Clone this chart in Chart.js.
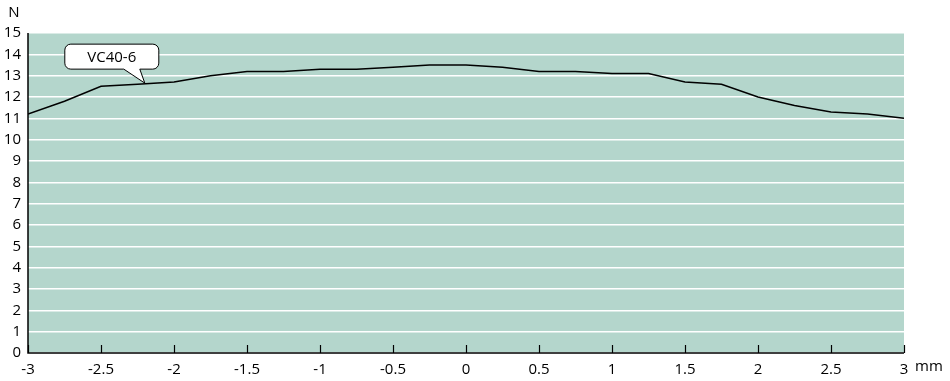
<!DOCTYPE html>
<html lang="en">
<head>
    <meta charset="UTF-8">
    <title>VC40-6 force curve</title>
    <script src="https://cdn.jsdelivr.net/npm/chart.js"></script>
    <style>
        body {
            margin: 0;
            padding: 0;
            background: #fff;
        }
        .wrap {
            width: 950px;
            height: 381px;
        }
    </style>
</head>
<body>
    <div class="wrap"><canvas id="forceChart" width="950" height="381"></canvas></div>

    <script>
        // stroke position (mm) and force (N)
        const strokeMm = [-3, -2.75, -2.5, -2.25, -2, -1.75, -1.5, -1.25, -1, -0.75, -0.5, -0.25, 0,
                          0.25, 0.5, 0.75, 1, 1.25, 1.5, 1.75, 2, 2.25, 2.5, 2.75, 3];
        const forceN = [11.2, 11.8, 12.5, 12.6, 12.7, 13.0, 13.2, 13.2, 13.3, 13.3, 13.4, 13.5, 13.5,
                        13.4, 13.2, 13.2, 13.1, 13.1, 12.7, 12.6, 12.0, 11.6, 11.3, 11.2, 11.0];
        const xTicks = [-3, -2.5, -2, -1.5, -1, -0.5, 0, 0.5, 1, 1.5, 2, 2.5, 3];
        const seriesLabel = 'VC40-6';
        const labelAt = [-2.2, 12.65];

        const fontFamily = '"Open Sans", "Noto Sans", sans-serif';

        // teal plot background, inner ticks, axis units and the callout
        const decorations = {
            id: 'decorations',
            beforeDraw(chart) {
                const { ctx, chartArea: a } = chart;
                ctx.save();
                ctx.fillStyle = '#b4d6cc';
                ctx.fillRect(a.left, a.top, a.right - a.left, a.bottom - a.top);
                ctx.restore();
            },
            afterDraw(chart) {
                const { ctx, chartArea: a, scales } = chart;
                ctx.save();
                // short ticks pointing up into the plot
                ctx.strokeStyle = '#000';
                ctx.lineWidth = 1.2;
                xTicks.forEach(v => {
                    const px = Math.round(scales.x.getPixelForValue(v)) + 0.5;
                    ctx.beginPath();
                    ctx.moveTo(px, a.bottom);
                    ctx.lineTo(px, a.bottom - 8);
                    ctx.stroke();
                });
                // axis lines
                ctx.lineWidth = 1.5;
                ctx.beginPath();
                ctx.moveTo(a.left, a.top);
                ctx.lineTo(a.left, a.bottom);
                ctx.lineTo(a.right, a.bottom);
                ctx.stroke();

                // units
                ctx.fillStyle = '#000';
                ctx.font = '15px ' + fontFamily;
                ctx.textBaseline = 'middle';
                ctx.textAlign = 'center';
                ctx.fillText('N', 14, 13);
                ctx.textAlign = 'left';
                ctx.fillText('mm', 915, a.bottom + 14);

                // callout
                const px = scales.x.getPixelForValue(labelAt[0]);
                const py = scales.y.getPixelForValue(labelAt[1]);
                const bx = px - 80, by = py - 39, bw = 94, bh = 25, r = 6;
                ctx.fillStyle = '#fff';
                ctx.strokeStyle = '#000';
                ctx.lineWidth = 1;
                ctx.beginPath();
                ctx.moveTo(bx + r, by);
                ctx.lineTo(bx + bw - r, by);
                ctx.arcTo(bx + bw, by, bx + bw, by + r, r);
                ctx.lineTo(bx + bw, by + bh - r);
                ctx.arcTo(bx + bw, by + bh, bx + bw - r, by + bh, r);
                ctx.lineTo(px - 5, by + bh);
                ctx.lineTo(px, py);
                ctx.lineTo(px - 21, by + bh);
                ctx.lineTo(bx + r, by + bh);
                ctx.arcTo(bx, by + bh, bx, by + bh - r, r);
                ctx.lineTo(bx, by + r);
                ctx.arcTo(bx, by, bx + r, by, r);
                ctx.closePath();
                ctx.fill();
                ctx.stroke();
                ctx.fillStyle = '#000';
                ctx.font = '500 15px ' + fontFamily;
                ctx.textAlign = 'center';
                ctx.fillText(seriesLabel, bx + bw / 2, by + bh / 2 + 1);
                ctx.restore();
            }
        };

        const ctx = document.getElementById('forceChart').getContext('2d');
        const forceChart = new Chart(ctx, {
            type: 'line',
            data: {
                datasets: [{
                    label: seriesLabel,
                    data: strokeMm.map((x, i) => ({ x: x, y: forceN[i] })),
                    borderColor: '#000',
                    borderWidth: 1.5,
                    pointRadius: 0,
                    tension: 0,
                    fill: false
                }]
            },
            options: {
                responsive: false,
                animation: false,
                layout: {
                    padding: { top: 33, right: 46, bottom: 0, left: 0 }
                },
                plugins: {
                    legend: { display: false },
                    tooltip: { enabled: false }
                },
                scales: {
                    x: {
                        type: 'linear',
                        min: -3,
                        max: 3,
                        afterBuildTicks(scale) {
                            scale.ticks = xTicks.map(v => ({ value: v }));
                        },
                        afterFit(scale) { scale.height = 28; },
                        grid: { display: false },
                        border: { display: false },
                        ticks: {
                            color: '#000',
                            font: { family: fontFamily, size: 15 },
                            padding: 0,
                            maxRotation: 0,
                            autoSkip: false,
                            callback: v => String(v)
                        }
                    },
                    y: {
                        min: 0,
                        max: 15,
                        afterFit(scale) { scale.width = 28; },
                        grid: {
                            color: '#fff',
                            lineWidth: 1.5,
                            drawTicks: false
                        },
                        border: { display: false },
                        ticks: {
                            stepSize: 1,
                            color: '#000',
                            font: { family: fontFamily, size: 15 },
                            padding: 7
                        }
                    }
                }
            },
            plugins: [decorations]
        });
    </script>
</body>
</html>
